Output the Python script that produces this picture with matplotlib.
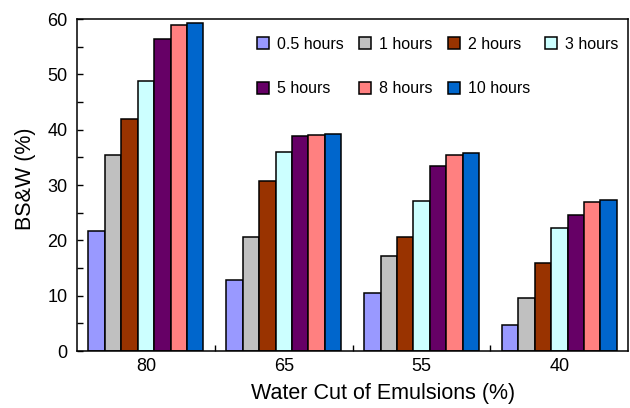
import matplotlib
matplotlib.use("Agg")
import matplotlib.pyplot as plt
from matplotlib.ticker import MultipleLocator, FixedLocator
import numpy as np

plt.rcParams['font.family'] = ['Liberation Sans', 'DejaVu Sans']

water_cut = ["80", "65", "55", "40"]
durations = ["0.5 hours", "1 hours", "2 hours", "3 hours", "5 hours", "8 hours", "10 hours"]
bsw = {
    "0.5 hours": [21.7, 12.8, 10.4, 4.7],
    "1 hours":   [35.4, 20.6, 17.2, 9.6],
    "2 hours":   [42.0, 30.7, 20.6, 15.9],
    "3 hours":   [48.8, 35.9, 27.2, 22.2],
    "5 hours":   [56.3, 38.9, 33.4, 24.5],
    "8 hours":   [58.9, 39.1, 35.5, 26.9],
    "10 hours":  [59.3, 39.3, 35.7, 27.3],
}
colors = ["#9999FF", "#C0C0C0", "#993300", "#CCFFFF", "#660066", "#FF8080", "#0066CC"]

fig = plt.figure(figsize=(6.30, 4.08), dpi=100)
ax = fig.add_axes([0.1222, 0.1397, 0.8751, 0.8137])

x = np.arange(len(water_cut))
width = 0.119
n = len(durations)
handles = []
for i, (name, col) in enumerate(zip(durations, colors)):
    offs = (i - (n - 1) / 2) * width
    h = ax.bar(x + offs, bsw[name], width, color=col, edgecolor="black",
               linewidth=1.1, label=name, zorder=2)
    handles.append(h)

ax.set_xlim(-0.5, 3.5)
ax.set_ylim(0, 60)
ax.set_xticks(x)
ax.set_xticklabels(water_cut)
ax.xaxis.set_minor_locator(FixedLocator([0.5, 1.5, 2.5]))
ax.yaxis.set_major_locator(MultipleLocator(10))
ax.yaxis.set_minor_locator(MultipleLocator(5))
ax.tick_params(axis="x", which="major", length=0, pad=5, labelsize=13)
ax.tick_params(axis="x", which="minor", direction="in", length=4, width=1)
ax.tick_params(axis="y", which="both", direction="in", length=4, width=1,
               pad=7, labelsize=13)
for sp in ax.spines.values():
    sp.set_linewidth(1.1)

ax.set_xlabel("Water Cut of Emulsions (%)", fontsize=15.5, labelpad=6)
ax.set_ylabel("BS&W (%)", fontsize=15.5, labelpad=8)
ax.xaxis.label.set_x(0.555)
ax.yaxis.label.set_y(0.52)

# legend laid out row by row: 4 entries on top, 3 below
order = [0, 4, 1, 5, 2, 6, 3]
leg = ax.legend([handles[i] for i in order], [durations[i] for i in order],
                ncol=4, frameon=False, fontsize=11.5,
                loc="upper right", bbox_to_anchor=(1.0, 0.975),
                handlelength=0.75, handleheight=0.75, handletextpad=0.5,
                columnspacing=0.95, labelspacing=1.85, borderaxespad=0.2)

fig.savefig("out.png", dpi=100)
